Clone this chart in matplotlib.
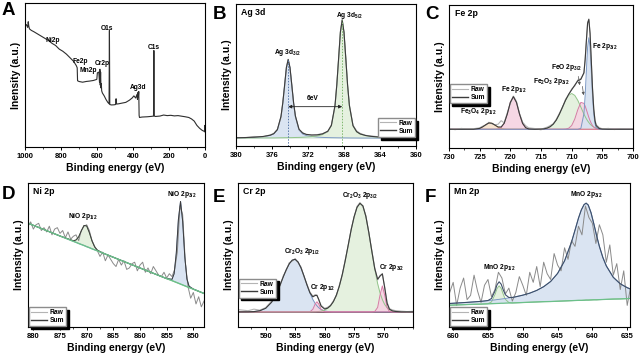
import numpy as np
import matplotlib
matplotlib.use("Agg")
import matplotlib.pyplot as plt
from matplotlib.lines import Line2D
from matplotlib.ticker import AutoMinorLocator

plt.rcParams['font.family'] = ['Liberation Sans', 'DejaVu Sans']
plt.rcParams['font.weight'] = 'bold'
plt.rcParams['mathtext.fontset'] = 'custom'
plt.rcParams['mathtext.rm'] = 'Liberation Sans:bold'
plt.rcParams['mathtext.it'] = 'Liberation Sans:bold'
plt.rcParams['mathtext.bf'] = 'Liberation Sans:bold'
plt.rcParams['mathtext.default'] = 'rm'

RAW_C = '#b4b4b4'
SUM_C = '#3c3c3c'
BLUE = ('#7b98c4', '#d6e2f1')
GREEN = ('#92c48a', '#e3f0dc')
PINK = ('#d77aa5', '#f6d3e2')
ORANGE = ('#e8a86a', '#f8e3cc')
BG_GREEN = '#6cc08a'

# ---------------- A: survey ----------------
a_be = [1000, 992, 985, 982, 979, 975, 965, 950, 930, 910, 890, 870, 850, 830, 810,
        790, 770, 750, 730, 715, 710, 708, 700, 680, 660, 640, 620, 605, 601, 598,
        590, 586, 584, 582, 580, 578, 576, 574, 570, 560, 550, 540, 533, 531, 529,
        520, 505, 497, 494, 491, 480, 460, 440, 420, 405, 395, 385, 378, 375, 372,
        370, 368, 366, 364, 350, 320, 295, 286, 284, 282, 275, 250, 230, 210, 190,
        170, 150, 130, 110, 90, 75, 60, 45, 30, 15, 6, 2, 1, 0]
a_int = [84, 85, 83, 87, 84, 82, 81, 80, 78.5, 77, 75.5, 74, 72, 70.5, 68,
         66.5, 64.5, 62, 59.5, 56.5, 55, 46, 45.5, 45, 45.5, 45.8, 46.2, 46.8, 47, 51.5,
         52, 45, 54, 43, 52, 41, 44, 39, 37.5, 35.5, 33, 31, 30, 81, 29.5,
         29.2, 29.3, 29.5, 33.5, 29.8, 30, 30.5, 31, 32.5, 34, 35.5, 34, 36.5, 33, 38,
         35, 38.5, 22, 20.5, 20.8, 21, 21.3, 21.5, 67, 21.5, 21.2, 21.5, 22.2, 21.8, 22,
         21.6, 21.8, 21.4, 21, 20.5, 19.5, 18, 15, 13, 11.5, 11, 10.5, 15, 12]
a_labels = ['Ni2p', 'Fe2p', 'Mn2p', 'Cr2p', 'O1s', 'Ag3d', 'C1s']
a_label_be = [844, 694, 650, 572, 543, 372, 283]
a_label_y = [74, 59.7, 52.8, 58, 82, 41, 69]

# ---------------- B: Ag 3d ----------------
b_base = 5.5
b_be = [380, 379, 378, 377, 376.2, 375.8, 375.4, 375.0, 374.8, 374.6, 374.4, 374.2,
        374.0, 373.8, 373.6, 373.4, 373.0, 372.6, 372.2, 371.6, 371.0, 370.4, 369.8,
        369.4, 369.0, 368.8, 368.6, 368.4, 368.2, 368.0, 367.8, 367.6, 367.4, 367.0,
        366.6, 366.2, 365.6, 365.0, 364.0, 362.0, 360.0]
b_ag32 = [0.2, 0.35, 0.55, 1.0, 1.9, 3.0, 5.8, 15.1, 24.6, 37.0, 49.4, 55.0, 49.4, 37.0,
          24.6, 15.1, 5.8, 3.0, 1.9, 1.2, 0.8, 0.55, 0.43, 0.35, 0.3, 0.28, 0.26, 0.24,
          0.22, 0.2, 0.2, 0.18, 0.16, 0.14, 0.12, 0.1, 0.1, 0.1, 0.05, 0.05, 0.05]
b_ag52 = [0.1, 0.1, 0.15, 0.2, 0.2, 0.2, 0.25, 0.3, 0.3, 0.35, 0.35, 0.4, 0.4, 0.4,
          0.45, 0.5, 0.55, 0.65, 0.8, 1.06, 1.5, 2.45, 4.5, 8.7, 22.8, 37.2, 55.9, 74.5,
          83.0, 74.5, 55.9, 37.2, 22.8, 8.7, 4.5, 2.9, 1.8, 1.2, 0.7, 0.33, 0.2]
b_raw = [0.4, 0.3, 1.2, 1.0, 2.3, 3.4, 6.3, 14.6, 25.3, 36.4, 50.1, 55.6, 48.9, 37.6,
         24.0, 15.7, 6.1, 3.9, 2.5, 2.1, 2.5, 3.2, 4.6, 9.5, 22.1, 38.0, 55.1, 75.3,
         83.6, 73.8, 56.7, 36.5, 23.5, 9.1, 5.2, 3.4, 2.0, 1.6, 0.9, 0.4, 0.2]
b_centers = [374.2, 368.2]

# ---------------- C: Fe 2p ----------------
c_base = 13.1
c_be = [730, 729, 728, 727, 726, 725, 724.5, 724, 723.5, 723, 722.5, 722, 721.5, 721,
        720.5, 720, 719.5, 719, 718.5, 718, 717.5, 717, 716, 715, 714.5, 714, 713.5,
        713, 712.5, 712, 711.5, 711, 710.5, 710, 709.5, 709, 708.5, 708, 707.8, 707.6,
        707.4, 707.2, 707.0, 706.8, 706.6, 706.4, 706.2, 706.0, 705.5, 705, 704, 703,
        702, 701, 700]
c_fe3o4 = [0, 0, 0, 0, 0, 0.6, 1.7, 3.2, 4.4, 4.2, 2.9, 1.4, 0.5, 0.1, 0,
           0, 0, 0, 0, 0, 0, 0, 0, 0, 0, 0, 0, 0, 0, 0,
           0, 0, 0, 0, 0, 0, 0, 0, 0, 0, 0, 0, 0, 0, 0,
           0, 0, 0, 0, 0, 0, 0, 0, 0, 0]
c_fe12 = [0, 0, 0, 0, 0, 0, 0, 0, 0, 0, 0, 0.2, 1.1, 4.1, 10.6,
          18.8, 22.8, 18.8, 10.6, 4.1, 1.1, 0.2, 0, 0, 0, 0, 0, 0, 0, 0,
          0, 0, 0, 0, 0, 0, 0, 0, 0, 0, 0, 0, 0, 0, 0,
          0, 0, 0, 0, 0, 0, 0, 0, 0, 0]
c_fe2o3 = [0, 0, 0, 0, 0, 0, 0, 0, 0, 0, 0, 0, 0, 0, 0,
           0, 0, 0, 0, 0, 0, 0, 0, 0.1, 0.3, 0.8, 1.8, 3.6, 6.5, 10.6,
           15.5, 20.2, 23.7, 25.0, 23.7, 20.2, 15.5, 10.6, 8.9, 7.3, 5.9, 4.7, 3.6, 2.8, 2.1,
           1.6, 1.1, 0.8, 0.3, 0.1, 0, 0, 0, 0, 0]
c_feo = [0, 0, 0, 0, 0, 0, 0, 0, 0, 0, 0, 0, 0, 0, 0,
         0, 0, 0, 0, 0, 0, 0, 0, 0, 0, 0, 0, 0, 0, 0,
         0, 0.1, 0.7, 2.6, 7.1, 13.7, 18.8, 18.1, 16.2, 13.7, 11.0, 8.3, 6.0, 4.1, 2.6,
         1.6, 0.9, 0.5, 0.1, 0, 0, 0, 0, 0, 0]
c_fe0 = [0, 0, 0, 0, 0, 0, 0, 0, 0, 0, 0, 0, 0, 0, 0,
         0, 0, 0, 0, 0, 0, 0, 0, 0, 0, 0, 0, 0, 0, 0,
         0, 0, 0, 0, 0, 0, 0.6, 10.9, 23.6, 41.1, 57.3, 64.0, 57.3, 41.1, 23.6,
         10.9, 4.0, 1.2, 0.1, 0, 0, 0, 0, 0, 0]
c_raw = [0.5, -0.3, 0.6, 0.2, 0.4, 1.0, 2.2, 2.8, 4.9, 3.8, 3.2, 3.5, 6.0, 4.5, 11.5,
         18.0, 23.2, 19.5, 11.0, 5.0, 2.5, 1.0, 0.5, -0.4, 0.8, 1.5, 2.6, 3.9, 7.0, 11.2,
         15.0, 21.0, 24.0, 28.2, 30.2, 34.5, 35.5, 39.0, 49.5, 61.5, 74.8, 76.4, 67.5, 47.2, 29.0,
         14.8, 6.6, 3.2, 1.2, 0.3, 0.6, -0.2, 0.4, 0.1, 0.3]

# ---------------- D: Ni 2p ----------------
d_be = [881, 875, 872.5, 872, 871.5, 871, 870.5, 870, 869.5, 869, 868.5, 868, 867,
        860, 855, 854, 853.6, 853.2, 852.8, 852.4, 852.0, 851.6, 851.2, 850.8, 850, 848]
d_bg = [72.1, 63.2, 59.5, 58.8, 58.0, 57.3, 56.6, 55.8, 55.1, 54.3, 53.6, 52.9, 51.4,
        41.0, 33.6, 32.2, 31.6, 31.0, 30.4, 29.8, 29.2, 28.6, 28.0, 27.4, 26.3, 23.3]
d_nio12 = [0, 0, 0.4, 1.6, 4.6, 9.5, 13.9, 14.4, 10.5, 5.5, 2.0, 0.5, 0,
           0, 0, 0, 0, 0, 0, 0, 0, 0, 0, 0, 0, 0]
d_nio32 = [0, 0, 0, 0, 0, 0, 0, 0, 0, 0, 0, 0, 0,
           0, 0, 0.9, 5.4, 20.1, 44.2, 57.4, 44.2, 20.1, 5.4, 0.9, 0, 0]
d_raw_start, d_raw_step = 881, 0.5
d_raw = [70, 73, 68, 71, 72, 67, 69, 66, 70, 64, 68, 69, 65, 67, 62, 66, 61, 63, 64, 60,
         67, 70, 71, 67, 60, 56, 53, 49, 52, 46, 50, 47, 44, 42, 47, 43, 46, 40, 41, 44,
         45, 39, 43, 45, 38, 41, 37, 42, 39, 36, 35, 38, 34, 37, 35, 40, 52, 84, 78, 45,
         28, 20, 24, 16, 21, 14, 18]

# ---------------- E: Cr 2p ----------------
e_base = 10.5
e_be = [594.5, 593, 592, 591, 590, 589, 588.5, 588, 587.5, 587, 586.5, 586, 585.5, 585,
        584.5, 584, 583.5, 583, 582.5, 582, 581.6, 581.3, 581, 580.6, 580, 579.5, 579,
        578.5, 578, 577.5, 577, 576.5, 576, 575.5, 575, 574.5, 574, 573.5, 573, 572.5,
        572, 571.5, 571, 570.6, 570.2, 569.8, 569.4, 569, 568.5, 568, 567, 566, 565]
e_ox12 = [0, 0.04, 0.2, 0.8, 2.5, 6.7, 10.1, 14.3, 19.3, 24.5, 29.4, 33.4, 35.9, 36.5,
          34.6, 30.5, 24.9, 18.8, 13.3, 8.6, 5.8, 4.2, 2.9, 1.7, 0.7, 0.3, 0.1,
          0, 0, 0, 0, 0, 0, 0, 0, 0, 0, 0, 0, 0, 0, 0, 0, 0, 0, 0, 0, 0, 0, 0, 0, 0, 0]
e_cr12 = [0, 0, 0, 0, 0, 0, 0, 0, 0, 0, 0, 0, 0, 0, 0, 0, 0, 0, 0, 1.8, 5.5, 7.0, 5.5,
          1.8, 0.1, 0, 0, 0, 0, 0, 0, 0, 0, 0, 0, 0, 0, 0, 0, 0, 0, 0, 0, 0, 0, 0, 0, 0,
          0, 0, 0, 0, 0]
e_ox32 = [0, 0, 0, 0, 0, 0, 0, 0, 0, 0, 0, 0, 0, 0, 0, 0, 0, 0, 0, 0.05, 0.1, 0.2, 0.3,
          0.5, 1.2, 2.3, 4.2, 7.2, 11.7, 17.9, 26.0, 35.6, 46.3, 56.9, 66.0, 72.6, 75.4,
          73.6, 66.3, 55.2, 42.4, 30.0, 19.6, 13.2, 8.5, 5.1, 2.9, 1.6, 0.7, 0.3, 0, 0, 0]
e_cr32 = [0, 0, 0, 0, 0, 0, 0, 0, 0, 0, 0, 0, 0, 0, 0, 0, 0, 0, 0, 0, 0, 0, 0, 0, 0, 0,
          0, 0, 0, 0, 0, 0, 0, 0, 0, 0, 0, 0, 0, 0, 0, 0.2, 3.1, 11.6, 18.0, 11.6, 3.1,
          0.3, 0, 0, 0, 0, 0]
e_raw = [1.5, 0.8, 1.9, 1.2, 3.0, 7.5, 9.6, 15.0, 18.6, 25.3, 28.8, 34.2, 35.2, 37.0,
         34.0, 31.2, 24.3, 19.2, 13.8, 10.9, 12.0, 11.8, 8.2, 4.6, 2.5, 3.2, 4.6, 7.8,
         11.0, 18.6, 25.4, 36.3, 45.6, 57.5, 65.4, 73.3, 75.9, 72.9, 67.0, 54.6, 43.0,
         30.8, 22.1, 25.4, 26.0, 17.3, 6.8, 2.3, 1.4, 0.9, 0.5, 0.2, 0.4]

# ---------------- F: Mn 2p ----------------
f_be = [660.6, 658, 656, 655, 654.5, 654, 653.7, 653.4, 653.1, 652.8, 652.5, 652, 651.5,
        651, 650, 649, 648, 647, 646, 645, 644, 643, 642.5, 642, 641.6, 641.2, 640.9,
        640.6, 640.2, 639.8, 639.4, 639, 638.5, 638, 637, 636, 635, 634.6]
f_bg = [15.1, 15.6, 15.9, 16.1, 16.2, 16.3, 16.35, 16.4, 16.5, 16.5, 16.6, 16.7, 16.7,
        16.8, 17.0, 17.2, 17.4, 17.6, 17.7, 17.9, 18.1, 18.3, 18.4, 18.5, 18.5, 18.6,
        18.7, 18.7, 18.8, 18.9, 18.9, 19.0, 19.1, 19.2, 19.4, 19.5, 19.7, 19.8]
f_mno32 = [1.2, 1.5, 1.9, 2.2, 2.4, 2.5, 2.7, 2.8, 2.9, 3.1, 3.2, 3.5, 3.8, 4.2, 5.1,
           6.3, 8.0, 10.4, 13.9, 19.3, 27.8, 40.7, 48.8, 57.1, 62.7, 66.4, 67.3, 66.0,
           60.6, 52.8, 44.6, 37.0, 29.2, 23.2, 15.1, 10.5, 7.6, 6.7]
f_mno12 = [0, 0, 0, 0.1, 1.2, 6.1, 10.3, 12.2, 10.3, 6.1, 2.6, 0.3, 0, 0, 0, 0, 0, 0,
           0, 0, 0, 0, 0, 0, 0, 0, 0, 0, 0, 0, 0, 0, 0, 0, 0, 0, 0, 0]
f_raw_start, f_raw_step = 660.5, 0.5
f_raw = [24, 31, 15, 27, 34, 19, 22, 36, 25, 17, 29, 33, 21, 26, 38, 34, 23, 27,
         18, 24, 35, 29, 22, 38, 31, 42, 28, 45, 37, 33, 51, 43, 39, 55, 47, 60,
         56, 70, 64, 84, 76, 72, 58, 71, 64, 45, 57, 36, 44, 26, 39, 15, 28]


def style(ax, xlim, ticks, xlabel='Binding energy (eV)', ylabel='Intensity (a.u.)', minor=2):
    ax.set_xlim(xlim)
    ax.set_ylim(0, 100)
    ax.set_xticks(ticks)
    ax.set_yticks([])
    ax.xaxis.set_minor_locator(AutoMinorLocator(minor))
    ax.tick_params(axis='x', which='major', length=2.5, width=0.7, labelsize=5.5, pad=1.5)
    ax.tick_params(axis='x', which='minor', length=1.5, width=0.5)
    ax.set_xlabel(xlabel, fontsize=7.5, fontweight='bold', labelpad=2.5)
    ax.set_ylabel(ylabel, fontsize=7.5, fontweight='bold', labelpad=3)
    for s in ax.spines.values():
        s.set_linewidth(0.8)


def comp(ax, x, base, h, colors):
    x = np.asarray(x)
    base = np.asarray(base, dtype=float) * np.ones(len(x))
    top = base + np.asarray(h)
    ax.fill_between(x, base, top, color=colors[1], lw=0, alpha=0.9)
    ax.plot(x, top, color=colors[0], lw=0.7)


def legend(ax, **kw):
    handles = [Line2D([], [], color=RAW_C, lw=0.8), Line2D([], [], color=SUM_C, lw=1.0)]
    ax.legend(handles, ['Raw', 'Sum'], fontsize=4.8, frameon=True, fancybox=False,
              shadow={'color': 'black', 'alpha': 1}, edgecolor='#8c8c8c', borderpad=0.3,
              handlelength=2.4, labelspacing=0.15, handletextpad=0.4, **kw)


def title(ax, s):
    ax.text(0.03, 0.97, s, transform=ax.transAxes, ha='left', va='top', fontsize=6.3,
            fontweight='bold')


lab = dict(fontsize=4.8, fontweight='bold', ha='center', va='center')

fig = plt.figure(figsize=(6.4, 3.6), dpi=100)
W, H = 640, 360


def axes_px(l, t, r, b):
    return fig.add_axes([l / W, 1 - b / H, (r - l) / W, (b - t) / H])


axA = axes_px(25, 3, 205, 147)
axB = axes_px(236, 4, 416, 146)
axC = axes_px(449, 5, 633, 148)
axD = axes_px(28, 183, 204, 327)
axE = axes_px(238, 183, 413, 327)
axF = axes_px(449, 183, 630, 327)

# A
axA.plot(a_be, a_int, color='#2e2e2e', lw=0.8)
for t, xv, yv in zip(a_labels, a_label_be, a_label_y):
    axA.text(xv, yv, t, **lab)
style(axA, (1000, 0), [1000, 800, 600, 400, 200, 0], ylabel='Inensity (a.u.)')

# B
bb = np.asarray(b_be)
comp(axB, bb, b_base, b_ag32, BLUE)
comp(axB, bb, b_base, b_ag52, GREEN)
axB.plot(bb, b_base + np.asarray(b_raw), color=RAW_C, lw=0.8)
axB.plot(bb, b_base + np.asarray(b_ag32) + np.asarray(b_ag52), color=SUM_C, lw=0.8)
axB.vlines(b_centers[0], 0, b_base + max(b_ag32), color='#5a78a8', lw=0.7, ls=(0, (1.5, 1.5)))
axB.vlines(b_centers[1], 0, b_base + max(b_ag52), color='#7fb86f', lw=0.7, ls=(0, (1.5, 1.5)))
axB.annotate('', xy=(b_centers[1], 27.7), xytext=(b_centers[0], 27.7),
             arrowprops=dict(arrowstyle='<|-|>', color='#222222', lw=0.6,
                             mutation_scale=5, shrinkA=0, shrinkB=0))
axB.text(371.5, 33.5, '6eV', **lab)
axB.text(374.25, 65.5, 'Ag 3d$_{3/2}$', **lab)
axB.text(367.4, 92, 'Ag 3d$_{5/2}$', **lab)
title(axB, 'Ag 3d')
legend(axB, loc='lower right', bbox_to_anchor=(1.0, 0.06), borderaxespad=0.1)
style(axB, (380, 360), [380, 376, 372, 368, 364, 360], xlabel='Binding engery (eV)')

# C
cb = np.asarray(c_be)
axC.axhline(c_base, color=ORANGE[0], lw=0.7)
for h, col in [(c_fe3o4, ORANGE), (c_fe12, PINK), (c_fe2o3, GREEN), (c_feo, PINK), (c_fe0, BLUE)]:
    comp(axC, cb, c_base, h, col)
axC.plot(cb, c_base + np.asarray(c_raw), color=RAW_C, lw=0.8)
c_sum = c_base + np.sum([c_fe3o4, c_fe12, c_fe2o3, c_feo, c_fe0], axis=0)
axC.plot(cb, c_sum, color=SUM_C, lw=0.8)
axC.text(725.2, 25.5, 'Fe$_3$O$_4$ 2p$_{1/2}$', **lab)
axC.text(719.5, 41, 'Fe 2p$_{1/2}$', **lab)
axC.text(713.3, 46.5, 'Fe$_2$O$_3$ 2p$_{3/2}$', **lab)
axC.text(710.8, 56, 'FeO 2p$_{3/2}$', **lab)
axC.text(704.6, 71, 'Fe 2p$_{3/2}$', **lab)
arr = dict(arrowstyle='-|>', color='#555555', lw=0.5, mutation_scale=4)
axC.annotate('', xy=(708.6, 42), xytext=(709.0, 52), arrowprops=arr)
axC.annotate('', xy=(708.0, 35), xytext=(708.3, 45), arrowprops=arr)
title(axC, 'Fe 2p')
legend(axC, loc='lower left', bbox_to_anchor=(0.0, 0.31), borderaxespad=0.1)
style(axC, (730, 700), [730, 725, 720, 715, 710, 705, 700])

# D
db = np.asarray(d_be)
dbg = np.asarray(d_bg)
comp(axD, db, dbg, d_nio12, GREEN)
comp(axD, db, dbg, d_nio32, BLUE)
d_x = d_raw_start - d_raw_step * np.arange(len(d_raw))
axD.plot(d_x, d_raw, color='#8a8a8a', lw=0.7)
axD.plot(db, dbg + np.asarray(d_nio12) + np.asarray(d_nio32), color=SUM_C, lw=0.7)
axD.plot(db, dbg, color=BG_GREEN, lw=1.0)
axD.text(870.7, 77, 'NiO 2p$_{1/2}$', **lab)
axD.text(852.1, 92, 'NiO 2p$_{3/2}$', **lab)
title(axD, 'Ni 2p')
legend(axD, loc='lower left', bbox_to_anchor=(0.0, 0.0), borderaxespad=0.1)
style(axD, (881, 848), [880, 875, 870, 865, 860, 855, 850])

# E
eb = np.asarray(e_be)
axE.axhline(e_base, color='#555555', lw=0.7)
for h, col in [(e_ox12, BLUE), (e_cr12, PINK), (e_ox32, GREEN), (e_cr32, PINK)]:
    comp(axE, eb, e_base, h, col)
axE.plot(eb, e_base + np.asarray(e_raw), color=RAW_C, lw=0.8)
e_sum = e_base + np.sum([e_ox12, e_cr12, e_ox32, e_cr32], axis=0)
axE.plot(eb, e_sum, color=SUM_C, lw=0.8)
axE.text(583.9, 52.5, 'Cr$_2$O$_3$ 2p$_{1/2}$', **lab)
axE.text(580.4, 27.5, 'Cr 2p$_{1/2}$', **lab)
axE.text(573.9, 91.5, 'Cr$_2$O$_3$ 2p$_{3/2}$', **lab)
axE.text(568.6, 41, 'Cr 2p$_{3/2}$', **lab)
title(axE, 'Cr 2p')
legend(axE, loc='lower left', bbox_to_anchor=(0.0, 0.2), borderaxespad=0.1)
style(axE, (594.7, 565), [590, 585, 580, 575, 570])

# F
fb = np.asarray(f_be)
fbg = np.asarray(f_bg)
comp(axF, fb, fbg, f_mno12, GREEN)
comp(axF, fb, fbg, f_mno32, BLUE)
f_x = f_raw_start - f_raw_step * np.arange(len(f_raw))
axF.plot(f_x, f_raw, color='#8a8a8a', lw=0.7)
axF.plot(fb, fbg + np.asarray(f_mno12) + np.asarray(f_mno32), color='#3d4f6a', lw=0.8)
axF.plot(fb, fbg, color=BG_GREEN, lw=0.9)
axF.text(653.4, 41, 'MnO 2p$_{1/2}$', **lab)
axF.text(640.9, 92, 'MnO 2p$_{3/2}$', **lab)
title(axF, 'Mn 2p')
legend(axF, loc='lower left', bbox_to_anchor=(0.0, 0.0), borderaxespad=0.1)
style(axF, (660.6, 634.6), [660, 655, 650, 645, 640, 635])

# panel letters
for letter, (xp, yp) in zip('ABCDEF', [(2, 2), (213, 6), (425, 6), (2, 186), (213, 189), (425, 189)]):
    fig.text(xp / W, 1 - yp / H, letter, fontsize=13.5, fontweight='bold', ha='left', va='top')

fig.savefig('out.png', dpi=100)
